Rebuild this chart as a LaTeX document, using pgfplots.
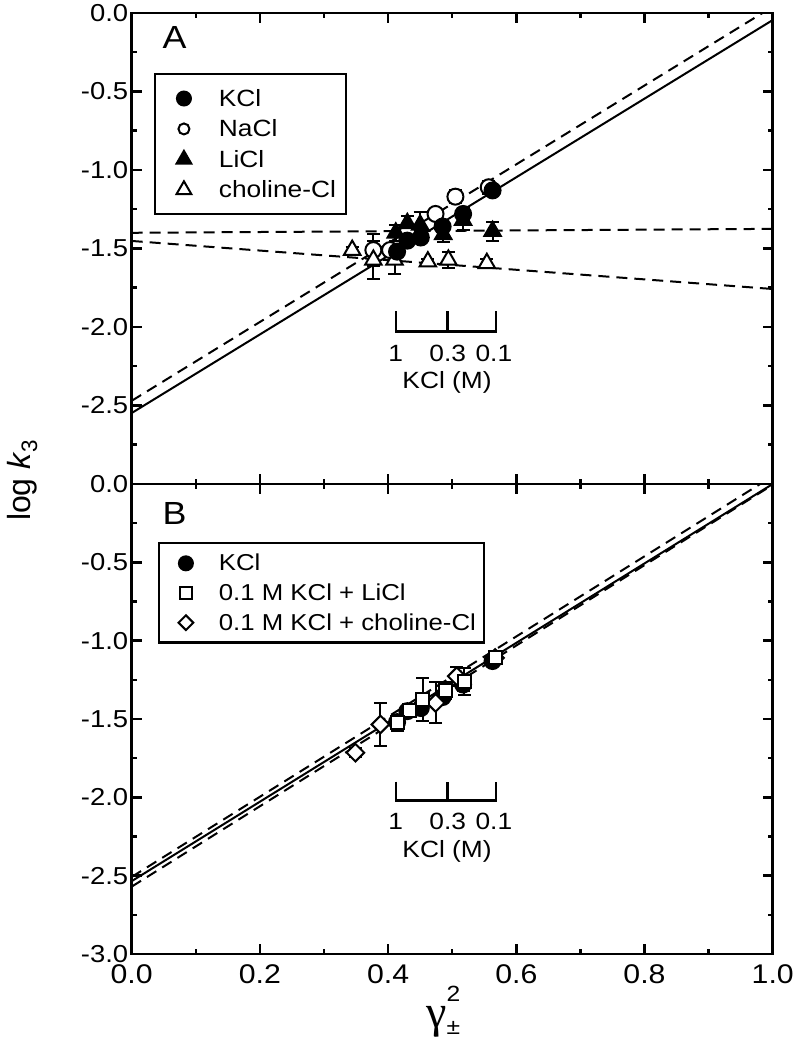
\documentclass[border=0pt]{standalone}
\usepackage{fontspec}
\setmainfont{Liberation Sans}[FakeStretch=1.12]
\newfontfamily\plainfont{Liberation Sans}
\newfontfamily\gammafont{Liberation Serif}
\usepackage{graphicx}
\usepackage{pgfplots}
\usepackage{pgfplotstable}
\pgfplotsset{compat=1.18}
\newcommand{\fs}[1]{\fontsize{#1}{#1}\selectfont}

\pgfplotstableread{
x y e
0.563 -1.13 0.03
0.517 -1.28 0.04
0.485 -1.36 0.03
0.451 -1.43 0.03
0.430 -1.45 0.03
0.414 -1.52 0.03
}\KClA
\pgfplotstableread{
x y e
0.557 -1.11 0.04
0.505 -1.17 0.04
0.474 -1.28 0.02
0.430 -1.40 0.03
0.403 -1.51 0.03
0.377 -1.51 0.10
}\NaClA
\pgfplotstableread{
x y e
0.563 -1.39 0.06
0.517 -1.32 0.06
0.486 -1.41 0.05
0.450 -1.35 0.08
0.430 -1.34 0.05
0.412 -1.40 0.05
}\LiClA
\pgfplotstableread{
x y e
0.554 -1.594 0.03
0.494 -1.573 0.05
0.462 -1.584 0.02
0.410 -1.573 0.09
0.377 -1.573 0.12
0.344 -1.51 0.02
}\ChoA
\pgfplotstableread{
x y e
0.567 -1.11 0.02
0.519 -1.26 0.085
0.489 -1.32 0.055
0.454 -1.375 0.136
0.433 -1.444 0.03
0.415 -1.524 0.05
}\LiB
\pgfplotstableread{
x y e
0.567 -1.11 0.03
0.507 -1.227 0.06
0.474 -1.397 0.13
0.388 -1.535 0.14
0.349 -1.715 0.03
}\ChoB

\pgfplotsset{
  panel/.style={
    scale only axis, width=641pt, xmin=0, xmax=1, ymin=-3, ymax=0,
    axis line style={line width=2.5pt},
    tick style={line width=2.5pt, black},
    major tick length=10pt, minor tick length=5pt, tick align=inside,
    xtick={0,0.2,0.4,0.6,0.8,1}, minor xtick={0.1,0.3,0.5,0.7,0.9},
    ytick={-3,-2.5,-2,-1.5,-1,-0.5,0},
    minor ytick={-2.75,-2.25,-1.75,-1.25,-0.75,-0.25},
    yticklabel style={font=\fs{24.5}},
    xticklabel style={font=\fs{27}, yshift=-7pt},
    legend cell align=left,
    legend image code/.code={\path[draw=none,fill=none] (-19pt,-7pt) rectangle (9pt,7pt); \draw[##1] plot coordinates {(0pt,0pt)};},
  },
  ebar/.style={error bars/.cd, y dir=both, y explicit,
    error bar style={line width=2pt, black},
    error mark options={rotate=90, mark size=6.5pt, line width=2pt, black}},
  fitsolid/.style={black, line width=2pt, no marks, forget plot},
  fitdash/.style={black, line width=2pt, no marks, forget plot, dash pattern=on 11pt off 7pt},
}

\begin{document}
\begin{tikzpicture}
\path[use as bounding box] (0pt,0pt) rectangle (801pt,1039pt);

% ---------- Panel A ----------
\begin{axis}[panel, height=471pt, at={(131.7pt,555pt)}, anchor=south west,
  xticklabels={},
  yticklabels={,-2.5,-2.0,-1.5,-1.0,-0.5,0.0},
  legend style={at={(0.0343,0.8726)}, anchor=north west, draw=black, line width=2.5pt,
    fill=white, font=\fs{23.5}, inner xsep=10pt, inner ysep=15pt, row sep=11.9pt,
    nodes={inner sep=0pt}, /tikz/every odd column/.append style={column sep=26pt}},
]
\addplot[fitsolid] coordinates {(0,-2.548) (1,-0.045)};
\addplot[fitdash] coordinates {(0,-2.47) (1,0.04)};
\addplot[fitdash] coordinates {(0,-1.40) (1,-1.375)};
\addplot[fitdash] coordinates {(0,-1.452) (1,-1.758)};

\addplot[only marks, forget plot, mark=*, mark size=8pt, mark options={draw=black, fill=white, line width=2pt}, ebar] table[x=x,y=y,y error=e] {\NaClA};
\addplot[only marks, forget plot, mark=triangle*, mark size=9.5pt, mark options={draw=black, fill=white, line width=2pt}, ebar] table[x=x,y=y,y error=e] {\ChoA};
\addplot[only marks, forget plot, mark=triangle*, mark size=9.5pt, mark options={draw=black, fill=black, line width=2pt}, ebar] table[x=x,y=y,y error=e] {\LiClA};
\addplot[only marks, forget plot, mark=*, mark size=8pt, mark options={draw=black, fill=black, line width=2pt}, ebar] table[x=x,y=y,y error=e] {\KClA};

\addlegendimage{only marks, mark=*, mark size=7pt, mark options={draw=black, fill=black, line width=2pt}}
\addlegendentry{KCl}
\addlegendimage{only marks, mark=*, mark size=5.5pt, mark options={draw=black, fill=white, line width=2pt}}
\addlegendentry{NaCl}
\addlegendimage{only marks, mark=triangle*, mark size=8.5pt, mark options={draw=black, fill=black, line width=2pt}}
\addlegendentry{LiCl}
\addlegendimage{only marks, mark=triangle*, mark size=8.5pt, mark options={draw=black, fill=white, line width=2pt}}
\addlegendentry{choline-Cl}

\draw[line width=2.5pt, line join=miter] (0.412,-1.90) -- (0.412,-2.03) -- (0.568,-2.03) -- (0.568,-1.90);
\draw[line width=2.5pt] (0.493,-2.03) -- (0.493,-1.90);
\node[font=\fs{23.5}] at (0.412,-2.168) {1};
\node[font=\fs{23.5}] at (0.493,-2.168) {0.3};
\node[font=\fs{23.5}] at (0.565,-2.168) {0.1};
\node[font=\fs{23.5}] at (0.492,-2.352) {KCl (M)};
\node[font=\fs{32}] at (rel axis cs:0.067,0.947) {A};
\end{axis}

% ---------- Panel B ----------
\begin{axis}[panel, height=470pt, at={(131.7pt,85pt)}, anchor=south west,
  xticklabels={0.0,0.2,0.4,0.6,0.8,1.0},
  yticklabels={-3.0,-2.5,-2.0,-1.5,-1.0,-0.5,0.0},
  legend style={at={(0.0405,0.8766)}, anchor=north west, draw=black, line width=2.5pt,
    fill=white, font=\fs{23}, inner xsep=8pt, inner ysep=11pt, row sep=11.5pt,
    nodes={inner sep=0pt}, /tikz/every odd column/.append style={column sep=24pt}},
]
\addplot[fitdash] coordinates {(0,-2.508) (1,0.05)};
\addplot[fitsolid] coordinates {(0,-2.535) (1,0.0)};
\addplot[fitdash] coordinates {(0,-2.570) (1,-0.005)};

\addplot[only marks, forget plot, mark=*, mark size=8pt, mark options={draw=black, fill=black, line width=2pt}, ebar] table[x=x,y=y,y error=e] {\KClA};
\addplot[only marks, forget plot, mark=square*, mark size=6.2pt, mark options={draw=black, fill=white, line width=2pt, rotate=45}, ebar] table[x=x,y=y,y error=e] {\ChoB};
\addplot[only marks, forget plot, mark=square*, mark size=6.5pt, mark options={draw=black, fill=white, line width=2pt}, ebar] table[x=x,y=y,y error=e] {\LiB};

\addlegendimage{only marks, mark=*, mark size=7pt, mark options={draw=black, fill=black, line width=2pt}}
\addlegendentry{KCl}
\addlegendimage{only marks, mark=square*, mark size=6pt, mark options={draw=black, fill=white, line width=2pt}}
\addlegendentry{0.1 M KCl + LiCl}
\addlegendimage{only marks, mark=square*, mark size=5.2pt, mark options={draw=black, fill=white, line width=2pt, rotate=45}}
\addlegendentry{0.1 M KCl + choline-Cl}

\draw[line width=2.5pt, line join=miter] (0.412,-1.90) -- (0.412,-2.02) -- (0.568,-2.02) -- (0.568,-1.90);
\draw[line width=2.5pt] (0.493,-2.02) -- (0.493,-1.90);
\node[font=\fs{23.5}] at (0.412,-2.155) {1};
\node[font=\fs{23.5}] at (0.493,-2.155) {0.3};
\node[font=\fs{23.5}] at (0.565,-2.155) {0.1};
\node[font=\fs{23.5}] at (0.492,-2.344) {KCl (M)};
\node[font=\fs{32}] at (rel axis cs:0.067,0.938) {B};
\end{axis}

\node[rotate=90, anchor=base, font=\plainfont\fs{32}] at (30pt,559pt) {log \textit{k}\textsubscript{3}};
\node[anchor=base west, inner sep=0pt, font=\fs{46}] at (426pt,12pt) {{\gammafont γ}\rlap{\raisebox{26pt}{\fs{22}2}}\raisebox{-7pt}{\fs{22}±}};
\end{tikzpicture}
\end{document}
